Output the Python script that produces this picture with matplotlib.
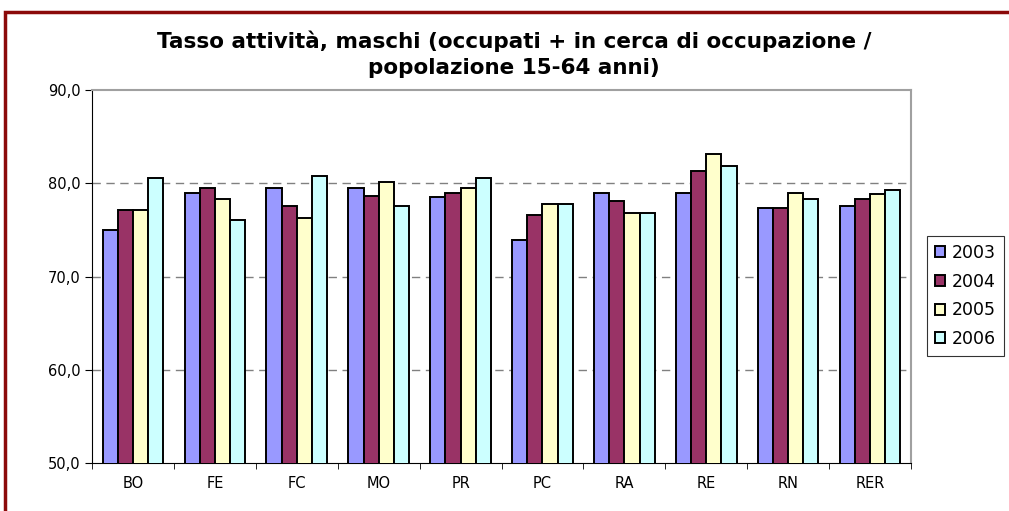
import numpy as np
import matplotlib.pyplot as plt
from matplotlib.patches import Rectangle

plt.rcParams['font.family'] = ['DejaVu Sans']

# province labels and yearly values
categories = ['BO', 'FE', 'FC', 'MO', 'PR', 'PC', 'RA', 'RE', 'RN', 'RER']
years = ['2003', '2004', '2005', '2006']
v2003 = [75.0, 79.0, 79.5, 79.5, 78.5, 73.9, 79.0, 79.0, 77.3, 77.6]
v2004 = [77.1, 79.5, 77.6, 78.6, 79.0, 76.6, 78.1, 81.3, 77.3, 78.3]
v2005 = [77.1, 78.3, 76.3, 80.1, 79.5, 77.8, 76.8, 83.1, 79.0, 78.8]
v2006 = [80.6, 76.1, 80.8, 77.6, 80.6, 77.8, 76.8, 81.8, 78.3, 79.3]
colors = ['#9999FF', '#993366', '#FFFFCC', '#CCFFFF']

fig = plt.figure(figsize=(10.09, 5.11), dpi=100)
ax = fig.add_axes([0.0912, 0.0939, 0.8117, 0.730])

x = np.arange(len(categories))
w = 0.185
series = [v2003, v2004, v2005, v2006]
for i, vals in enumerate(series):
    ax.bar(x + (i - 1.5) * w, vals, width=w, bottom=0, color=colors[i],
           edgecolor='black', linewidth=1.4, label=years[i], zorder=3)

ax.set_ylim(50, 90)
ax.set_xlim(-0.5, len(categories) - 0.5)
ax.set_yticks([50, 60, 70, 80, 90])
ax.set_yticklabels(['50,0', '60,0', '70,0', '80,0', '90,0'], fontsize=10.5)
ax.set_xticks(x)
ax.set_xticklabels(categories, fontsize=10.5)
ax.set_xticks(np.arange(len(categories) + 1) - 0.5, minor=True)
ax.tick_params(axis='x', which='major', length=0, pad=9)
ax.tick_params(axis='x', which='minor', length=4, direction='out', color='black')
ax.tick_params(axis='y', length=5, direction='out', pad=3)

for yv in [60, 70, 80]:
    ax.axhline(yv, color='#808080', linestyle=(0, (6, 4)), linewidth=1.0, zorder=1)

ax.spines['left'].set_color('black')
ax.spines['bottom'].set_color('black')
ax.spines['top'].set_color('#a0a0a0')
ax.spines['right'].set_color('#a0a0a0')
ax.spines['top'].set_linewidth(1.5)
ax.spines['right'].set_linewidth(1.5)

fig.text(514 / 1009, 1 - 54 / 511, 'Tasso attività, maschi (occupati + in cerca di occupazione /\npopolazione 15-64 anni)',
         ha='center', va='center', fontsize=15.5, fontweight='bold', linespacing=1.4)

leg = fig.legend(loc='upper left', bbox_to_anchor=(927 / 1009, 1 - 236 / 511),
                 fontsize=12.5, frameon=True, fancybox=False, edgecolor='black',
                 handlelength=0.6, handleheight=0.6, handletextpad=0.4,
                 labelspacing=0.62, borderpad=0.45, borderaxespad=0)
leg.get_frame().set_linewidth(0.8)

# dark red outer frame
fig.patches.append(Rectangle((5 / 1009, -0.05), 1.1, 1 - 12 / 511 + 0.05,
                             transform=fig.transFigure, fill=False,
                             edgecolor='#8B0A0A', linewidth=2.5))

fig.savefig('out.png', dpi=100)
